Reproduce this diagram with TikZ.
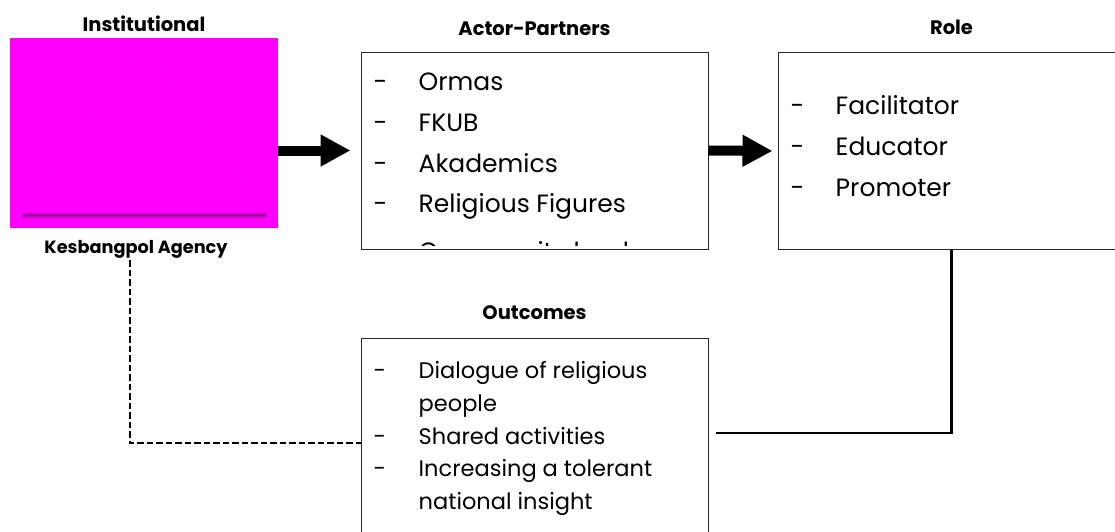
\documentclass[tikz,border=0pt]{standalone}
\usepackage{fontspec}
\setmainfont{Poppins}
\usepackage{xcolor}
\definecolor{INSTCOLOR}{RGB}{255,0,255}
\colorlet{SHADOWCOLOR}{INSTCOLOR!45!black}
\colorlet{BOXCOLOR}{black!85}
\colorlet{LINKCOLOR}{black}
\usepackage{tikz}
\usetikzlibrary{arrows.meta,positioning}
\tikzset{
  box-style/.style = {
    rectangle, draw=BOXCOLOR, line width=1pt,
    minimum width=347pt,
    minimum height=197pt,
    inner sep=0pt
  },
  inst-style/.style = {
    rectangle, fill=INSTCOLOR,
    minimum width=268pt,
    minimum height=190pt,
    inner sep=0pt
  },
  title-style/.style = {
    inner sep=0pt,
    font=\bfseries\fontsize{#1}{#1}\selectfont
  },
  title-style/.default = 19.5,
  item-style/.style = {
    inner sep=0pt, anchor=base west,
    font=\fontsize{#1}{#1}\selectfont
  },
  item-style/.default = 25,
  arrow-style/.style = {
    draw=LINKCOLOR, line width=10pt,
    -{Triangle[length=30pt,width=30pt]}
  },
  link-style/.style = {
    draw=LINKCOLOR, line width=2.2pt
  },
  dash-style/.style = {
    link-style, dash pattern=on 6.5pt off 3pt
  }
}
\newlength\itemIndent
\setlength\itemIndent{45pt}
\newcommand\itemName[1]{\makebox[\itemIndent][l]{-}#1}
\def\createItem name:#1 box:#2 down:#3 size:#4 text:#5;{
  \node [item-style=#4] (#1) at ([xshift=13pt,yshift=-#3]#2.north west) {\itemName{#5}};
}
\def\createMore name:#1 box:#2 down:#3 size:#4 text:#5;{
  \node [item-style=#4] (#1) at ([xshift=13pt,yshift=-#3]#2.north west) {\hspace*{\itemIndent}#5};
}

\begin{document}
\begin{tikzpicture}[x=1pt,y=-1pt]
  \useasboundingbox (0,0) rectangle (1115,531);
  \clip (0,0) rectangle (1115,531);

  % institution
  \node[inst-style] (inst) at (144,133) {};
  \draw[draw=INSTCOLOR!75!black, opacity=0.3] (145,43) -- (22,212) -- (268,212) -- cycle;
  \draw[draw=SHADOWCOLOR, line width=5pt, opacity=0.35] (22,215) -- (267,215);
  \draw[draw=SHADOWCOLOR, line width=2pt, opacity=0.6] (24,215) -- (265,215);
  \node[title-style, above=6pt of inst, anchor=base] (inst-title) {Institutional};
  \node[title-style=17.7, below=25pt of inst, xshift=-8pt, anchor=base] (agency) {Kesbangpol Agency};

  % boxes
  \node[box-style] (actor) at (534.5,150.5) {};
  \node[box-style] (role) at (951.5,151) {};
  \node[box-style] (outcome) at (534.5,436.5) {};
  \node[title-style, above=16pt of actor, anchor=base] (actor-title) {Actor-Partners};
  \node[title-style, above=18pt of role, anchor=base] (role-title) {Role};
  \node[title-style, above=18pt of outcome, anchor=base] (outcome-title) {Outcomes};

  % actor-partners
  \begin{scope}
    \clip (actor.north west) rectangle ([yshift=4pt]actor.south east);
    \createItem name:ormas box:actor down:39pt size:25 text:Ormas;
    \createItem name:fkub box:actor down:80pt size:25 text:FKUB;
    \createItem name:akademics box:actor down:121pt size:25 text:Akademics;
    \createItem name:figures box:actor down:161pt size:25 text:Religious Figures;
    \createItem name:leaders box:actor down:209pt size:25 text:Community leaders;
  \end{scope}

  % role
  \createItem name:facilitator box:role down:62pt size:25 text:Facilitator;
  \createItem name:educator box:role down:103pt size:25 text:Educator;
  \createItem name:promoter box:role down:144pt size:25 text:Promoter;

  % outcomes
  \createItem name:dialogue box:outcome down:41pt size:22.5 text:Dialogue of religious;
  \createMore name:people box:outcome down:74pt size:22.5 text:people;
  \createItem name:shared box:outcome down:106.5pt size:22.5 text:Shared activities;
  \createItem name:tolerant box:outcome down:139pt size:22.5 text:Increasing a tolerant;
  \createMore name:insight box:outcome down:172pt size:22.5 text:national insight;

  % connectors
  \draw[arrow-style, shorten >=10pt] (inst.east |- actor.west) -- (actor.west);
  \draw[arrow-style, shorten >=5pt] (actor.east) -- (role.west);
  \draw[link-style] (role.south) |- ([xshift=7pt,yshift=3.5pt]outcome.east);
  \draw[dash-style] ([xshift=-6pt,yshift=-7pt]agency.base) |- ([yshift=-6.5pt]outcome.west);
\end{tikzpicture}
\end{document}
